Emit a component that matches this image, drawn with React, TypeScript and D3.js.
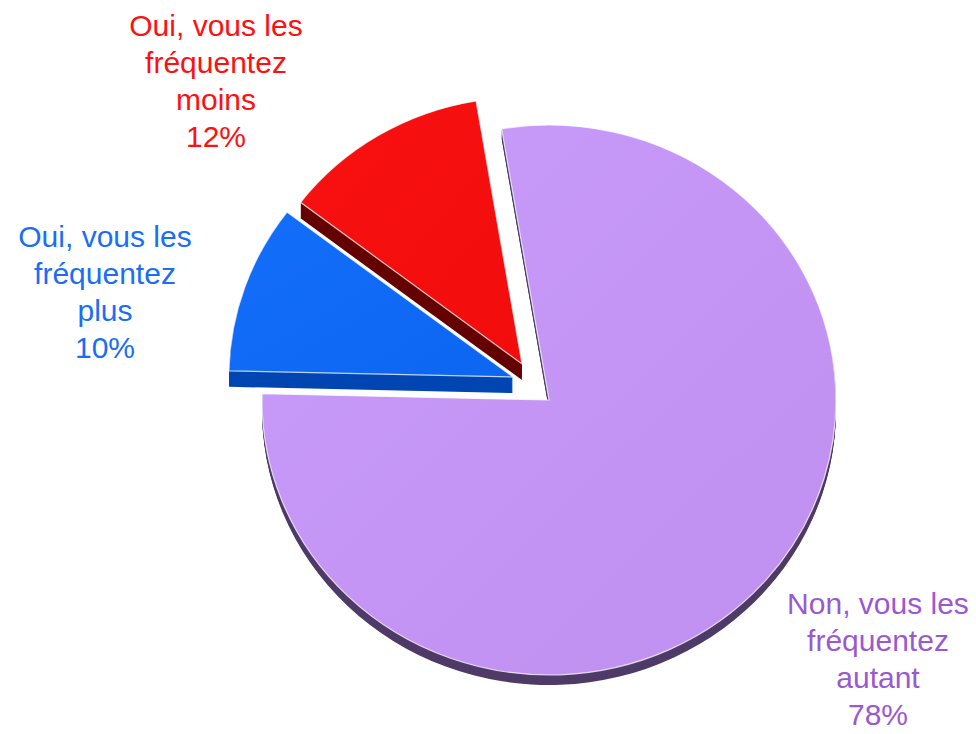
import React from 'react';
import * as d3 from 'd3';

// data
const categories = [
  'Non, vous les fréquentez autant',
  'Oui, vous les fréquentez plus',
  'Oui, vous les fréquentez moins',
];
const values = [78, 10, 12];
const labelLines = [
  ['Non, vous les', 'fréquentez', 'autant'],
  ['Oui, vous les', 'fréquentez', 'plus'],
  ['Oui, vous les', 'fréquentez', 'moins'],
];

// look
const topColors = [
  ['#c89bf9', '#c08ff1'],
  ['#136ef9', '#0d66f2'],
  ['#f91111', '#f20c0c'],
];
const sideColors = ['#4f3b68', '#0046b2', '#650000'];
const textColors = ['#9b59d1', '#1a6ef6', '#ff1010'];

// pie geometry (ellipse, slightly tilted)
const width = 976, height = 734;
const cx = 549, cy = 400, rx = 287, ry = 275;
const startDeg = -9.5;
// exploded offsets, size and thickness per slice
const slices = [
  { dx: 0, dy: 0, r: 1, depth: 10 },
  { dx: -36, dy: -23, r: 0.99, depth: 16 },
  { dx: -27, dy: -36, r: 0.97, depth: 16 },
];
const labelPos = [
  { x: 878, y: 614 },
  { x: 105, y: 247 },
  { x: 216, y: 36 },
];
const lineH = 37;

export default function App() {
  const start = (startDeg * Math.PI) / 180;
  const pie = d3.pie<number>().sort(null).value(d => d)
    .startAngle(start).endAngle(start + 2 * Math.PI);
  const arcs = pie(values);
  const arc = d3.arc<d3.PieArcDatum<number>>().innerRadius(0).outerRadius(rx);
  const k = ry / rx;

  return (
    <svg width={width} height={height}
      style={{ position: 'absolute', left: 0, top: 0, display: 'block', background: '#fff' }}>
      <defs>
        {topColors.map((c, i) => (
          <linearGradient key={i} id={`g${i}`} x1="0" y1="0" x2="1" y2="1">
            <stop offset="0" stopColor={c[0]} />
            <stop offset="1" stopColor={c[1]} />
          </linearGradient>
        ))}
      </defs>
      {arcs.map((a, i) => {
        const s = slices[i];
        const d = arc(a) || '';
        const layers = d3.range(s.depth, 0, -1);
        const sc = `scale(${s.r},${k * s.r})`;
        return (
          <g key={categories[i]}>
            {layers.map(off => (
              <path key={off} d={d} fill={sideColors[i]}
                transform={`translate(${cx + s.dx},${cy + s.dy + off}) ${sc}`} />
            ))}
            <path d={d} fill={`url(#g${i})`} stroke="#ffffff" strokeOpacity={0.75}
              strokeWidth={1.2} vectorEffect="non-scaling-stroke"
              transform={`translate(${cx + s.dx},${cy + s.dy}) ${sc}`} />
          </g>
        );
      })}
      {labelLines.map((lines, i) => (
        <text key={i} x={labelPos[i].x} y={labelPos[i].y} textAnchor="middle"
          fill={textColors[i]} fontFamily="'Liberation Sans', Arial, sans-serif" fontSize={30}>
          {[...lines, `${values[i]}%`].map((t, j) => (
            <tspan key={j} x={labelPos[i].x} dy={j === 0 ? 0 : lineH}>{t}</tspan>
          ))}
        </text>
      ))}
    </svg>
  );
}
